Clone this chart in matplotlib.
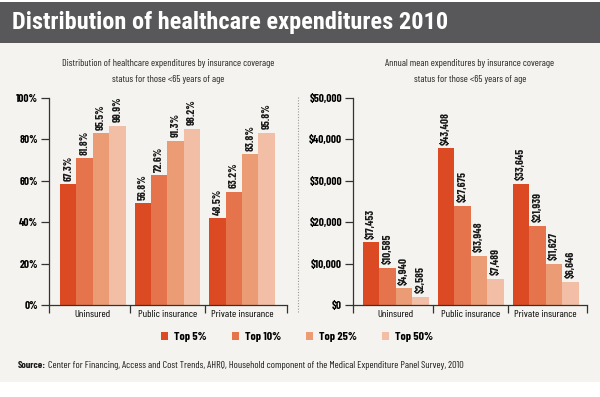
import numpy as np
import matplotlib
matplotlib.use("Agg")
import matplotlib.pyplot as plt
from matplotlib.patches import Rectangle
from matplotlib.lines import Line2D

# --- data ---
categories = ["Uninsured", "Public insurance", "Private insurance"]
series = ["Top 5%", "Top 10%", "Top 25%", "Top 50%"]
colors = ["#db4a22", "#e5734b", "#eb9c74", "#f2bfa6"]

# labelled shares (%) and the bar heights as drawn in the picture
share_labels = [[67.3, 81.8, 95.5, 99.9],
                [56.8, 72.6, 91.3, 98.2],
                [48.5, 63.2, 83.8, 95.8]]
share_bars = [[58.4, 70.9, 83.0, 86.7],
              [49.1, 62.8, 79.3, 85.2],
              [41.8, 54.7, 72.8, 83.3]]

# labelled mean expenditures ($) and the bar heights as drawn
spend_labels = [[17453, 10585, 4940, 2585],
                [43408, 27675, 13948, 7489],
                [33645, 21939, 11627, 6646]]
spend_bars = [[15170, 9030, 4110, 2020],
              [37910, 24030, 11930, 6290],
              [29280, 19110, 9990, 5640]]

pct_ticks = [0, 20, 40, 60, 80, 100]
usd_ticks = [0, 10000, 20000, 30000, 40000, 50000]

plt.rcParams["font.family"] = ["Barlow Condensed", "Roboto Condensed", "DejaVu Sans"]

W, H = 600, 397
fig = plt.figure(figsize=(W / 100, H / 100), dpi=100, facecolor="white")
renderer = fig.canvas.get_renderer()


def fx(px):
    return px / W


def fy(py):
    return 1 - py / H


def fit(txt, target_px):
    """rescale a text so its width matches the reference"""
    w = txt.get_window_extent(renderer).width
    txt.set_fontsize(txt.get_fontsize() * target_px / w)


# background panel and title band
fig.patches.append(Rectangle((0, fy(382)), 1, fy(43) - fy(382), transform=fig.transFigure,
                             facecolor="#f4f3ef", edgecolor="none", zorder=-10))
fig.patches.append(Rectangle((0, fy(43)), 1, fy(2) - fy(43), transform=fig.transFigure,
                             facecolor="#58585a", edgecolor="none", zorder=-10))
title = fig.text(fx(12), fy(22), "Distribution of healthcare expenditures 2010",
                 color="white", fontsize=18, fontweight="bold", va="center", ha="left",
                 family=["Roboto Condensed", "DejaVu Sans"])
fit(title, 437)

# dotted divider between the panels
fig.lines.append(Line2D([fx(298), fx(298)], [fy(97), fy(312)], transform=fig.transFigure,
                        color="#9a9a9a", lw=0.8, ls=(0, (1, 1.5))))

# subtitles
sub1 = fig.text(fx(168), fy(63), "Distribution of healthcare expenditures by insurance coverage",
                fontsize=7.5, ha="center", va="center", color="#222222")
fit(sub1, 213)
fig.text(fx(168), fy(79), "status for those <65 years of age", fontsize=sub1.get_fontsize(),
         ha="center", va="center", color="#222222")
fig.text(fx(470), fy(63), "Annual mean expenditures by insurance coverage",
         fontsize=sub1.get_fontsize(), ha="center", va="center", color="#222222")
fig.text(fx(470), fy(79), "status for those <65 years of age", fontsize=sub1.get_fontsize(),
         ha="center", va="center", color="#222222")

x = np.arange(len(categories))
bw = 0.22
offsets = (np.arange(len(series)) - 1.5) * bw


def draw_panel(ax, bars, labels, fmt, ticks, tickfmt, xlim):
    bars = np.array(bars)
    for j in range(len(series)):
        ax.bar(x + offsets[j], bars[:, j], width=bw, color=colors[j], label=series[j], zorder=2)
        for i in range(len(categories)):
            ax.annotate(fmt(labels[i][j]), (x[i] + offsets[j], bars[i, j]),
                        xytext=(0, 2.5), textcoords="offset points", rotation=90,
                        ha="center", va="bottom", fontsize=8, fontweight="bold",
                        color="#1a1a1a")
    ax.set_facecolor("none")
    ax.set_xlim(*xlim)
    ax.set_ylim(ticks[0], ticks[-1])
    ax.set_yticks(ticks)
    ax.set_yticklabels([tickfmt(t) for t in ticks], fontsize=8, fontweight="bold")
    ax.set_xticks([xlim[0], 0.5, 1.5, xlim[1]])
    ax.set_xticklabels([])
    ax.set_xticks(x, minor=True)
    ax.set_xticklabels(categories, minor=True, fontsize=7.5)
    ax.tick_params(axis="x", which="major", length=6, width=0.9, color="#333333")
    ax.tick_params(axis="x", which="minor", length=0, pad=3.5)
    ax.tick_params(axis="y", length=6, width=0.9, color="#333333", pad=2)
    for s in ("top", "right"):
        ax.spines[s].set_visible(False)
    for s in ("left", "bottom"):
        ax.spines[s].set_color("#333333")
        ax.spines[s].set_linewidth(0.9)


ax1 = fig.add_axes([fx(49), fy(305), fx(287) - fx(49), fy(98) - fy(305)])
draw_panel(ax1, share_bars, share_labels, lambda v: f"{v:.1f}%", pct_ticks,
           lambda t: f"{t}%", (-0.587, 2.603))

ax2 = fig.add_axes([fx(353), fy(305), fx(587) - fx(353), fy(98) - fy(305)])
draw_panel(ax2, spend_bars, spend_labels, lambda v: f"${v:,}", usd_ticks,
           lambda t: f"${t:,}", (-0.568, 2.55))

handles, labs = ax1.get_legend_handles_labels()
fig.legend(handles, labs, loc="center", bbox_to_anchor=(fx(297), fy(337)), ncol=4,
           frameon=False, handlelength=0.62, handleheight=0.62, handletextpad=0.5,
           columnspacing=2.1, prop={"weight": "bold", "size": 8.5})

# source line: bold lead-in, then regular text
t1 = fig.text(fx(18), fy(366), "Source:", fontsize=7.5, fontweight="bold", va="center",
              color="#1a1a1a")
t2 = fig.text(fx(18), fy(366),
              "Center for Financing, Access and Cost Trends, AHRQ, Household component of the "
              "Medical Expenditure Panel Survey, 2010",
              fontsize=7.5, va="center", color="#1a1a1a")
w1 = t1.get_window_extent(renderer).width
fit(t2, 449 - w1 - 2)
t1.set_fontsize(t2.get_fontsize())
t2.set_x(fx(18) + (t1.get_window_extent(renderer).width + 2) / W)

fig.savefig("out.png", dpi=100, facecolor=fig.get_facecolor())
